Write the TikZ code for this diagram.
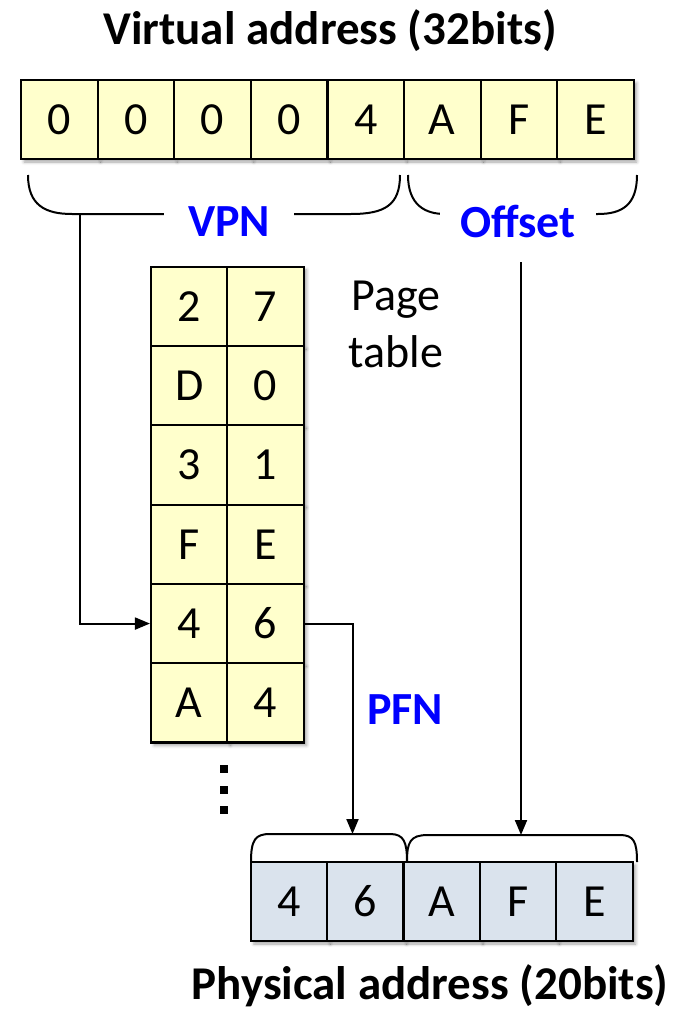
\documentclass[tikz,border=0pt]{standalone}
\usepackage{fontspec}
\setmainfont{Carlito}
\usetikzlibrary{arrows.meta,shadows.blur}

\definecolor{vayellow}{RGB}{255,255,204}
\definecolor{pablue}{RGB}{218,227,237}
\tikzset{
  cell/.style={draw, line width=2.2pt, fill=vayellow, inner sep=0pt,
    minimum width=76.6pt, minimum height=79pt, font=\fontsize{46}{46}\selectfont,
    blur shadow={shadow xshift=3pt, shadow yshift=-3pt, shadow blur radius=3pt, shadow opacity=35}},
  caption/.style={font=\fontsize{47}{47}\selectfont\bfseries, anchor=base},
  field/.style={font=\fontsize{46}{46}\selectfont\bfseries, text=blue, fill=white, inner ysep=0pt},
  brace/.style={line width=2pt},
  link/.style={line width=2pt, -{Triangle[length=15pt,width=12pt]}}
}

\begin{document}
\begin{tikzpicture}[x=1pt,y=-1pt]
  \useasboundingbox (0,0) rectangle (684,1014);

  \node[caption] (vtitle) at (330,45) {Virtual address (32bits)};
  \foreach \d [count=\i] in {0,0,0,0,4,A,F,E}
    \node[cell] (va\i) at ({21+76.6*(\i-0.5)},119.5) {\d};

  \draw[brace] (28,175) .. controls (28,205) and (45,214) .. (72,214) -- (351,214)
    .. controls (385,214) and (400,205) .. (400,175);
  \draw[brace] (408,175) .. controls (408,205) and (425,214) .. (445,214) -- (598,214)
    .. controls (622,214) and (637,205) .. (637,175);
  \node[field, inner xsep=24pt] (vpn) at (229,222) {VPN};
  \node[field, inner xsep=20pt] (offset) at (518,222) {Offset};
  \coordinate (vpnfoot) at (80,214);
  \coordinate (offtop) at (521,262);

  \foreach \a/\b [count=\r] in {2/7,D/0,3/1,F/E,4/6,A/4} {
    \node[cell, minimum width=76.3pt, minimum height=79.3pt] (pt\r-a) at (189.2,{266.7+79.3*(\r-0.5)}) {\a};
    \node[cell, minimum width=76.3pt, minimum height=79.3pt] (pt\r-b) at (265.5,{266.7+79.3*(\r-0.5)}) {\b};
  }
  \node[font=\fontsize{46}{57}\selectfont, align=center] (ptlabel) at (396,324) {Page\\table};
  \foreach \y in {769,790,810}
    \fill (220,\y-4) rectangle (228,\y+4);

  \draw[brace] (251,862) .. controls (251,840) and (255,834) .. (270,834) -- (390,834)
    .. controls (404,834) and (407,842) .. (407,862);
  \draw[brace] (407,862) .. controls (407,842) and (410,835) .. (428,835) -- (620,835)
    .. controls (634,835) and (637,842) .. (637,862);
  \coordinate (pfntip) at (352.5,834);
  \coordinate (offtip) at (521,835);

  \draw[link] (vpnfoot) |- (pt5-a.west);
  \draw[link] (pt5-b.east) -| (pfntip);
  \draw[link] (offtop) -- (offtip);
  \node[field, fill=none] (pfn) at (405,710) {PFN};

  \foreach \d [count=\i] in {4,6,A,F,E}
    \node[cell, fill=pablue] (pa\i) at ({251+76.3*(\i-0.5)},901.5) {\d};
  \node[caption] (ptitle) at (430,999) {Physical address (20bits)};
\end{tikzpicture}
\end{document}
